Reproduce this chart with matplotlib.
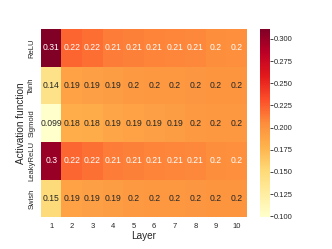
import matplotlib
matplotlib.use('Agg')
import matplotlib.pyplot as plt
import seaborn as sns
import numpy as np

activations = ['ReLU', 'Tanh', 'Sigmoid', 'LeakyReLU', 'Swish']
layers = [1, 2, 3, 4, 5, 6, 7, 8, 9, 10]

relu = [0.311, 0.222, 0.218, 0.212, 0.21, 0.209, 0.208, 0.207, 0.2045, 0.204]
tanh = [0.14, 0.19, 0.192, 0.194, 0.196, 0.197, 0.198, 0.199, 0.2, 0.2]
sigmoid = [0.099, 0.182, 0.184, 0.187, 0.19, 0.192, 0.194, 0.196, 0.197, 0.198]
leaky = [0.30, 0.221, 0.217, 0.212, 0.21, 0.209, 0.208, 0.207, 0.2045, 0.204]
swish = [0.15, 0.19, 0.192, 0.194, 0.196, 0.197, 0.198, 0.199, 0.2, 0.2]

data = np.array([relu, tanh, sigmoid, leaky, swish])

sns.set_style('white')
plt.rcParams['font.family'] = ['Liberation Sans', 'DejaVu Sans']

fig = plt.figure(figsize=(3.32, 2.49), dpi=100)
ax = fig.add_axes([0.123, 0.128, 0.621, 0.755])
cax = fig.add_axes([0.783, 0.128, 0.03, 0.755])

sns.heatmap(data, ax=ax, cbar_ax=cax, cmap='YlOrRd', annot=True, fmt='.2g',
            annot_kws={'size': 6.2}, xticklabels=layers, yticklabels=activations)

ax.set_xlabel('Layer', fontsize=7.2, labelpad=1)
ax.set_ylabel('Activation function', fontsize=7.2, labelpad=2)
ax.tick_params(axis='both', labelsize=5.5, length=0, pad=4)
ax.set_yticklabels(activations, rotation=90, va='center')
cax.tick_params(labelsize=5.5, length=2, width=0.6, pad=1)
cax.set_yticks([0.1, 0.125, 0.15, 0.175, 0.2, 0.225, 0.25, 0.275, 0.3])

fig.savefig('out.png', dpi=100)
